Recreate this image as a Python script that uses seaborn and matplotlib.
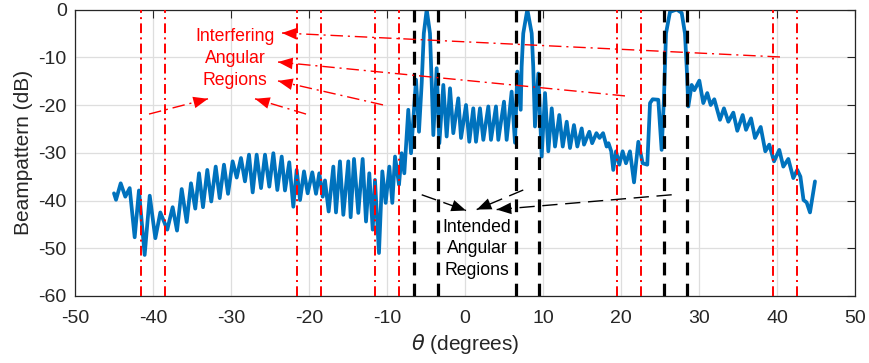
import numpy as np
import pandas as pd
import matplotlib
matplotlib.use("Agg")
import matplotlib.pyplot as plt
import seaborn as sns

# ---------------- data ----------------
theta = [
    -45.0, -44.74, -44.14, -43.55, -42.99, -42.35, -41.8, -41.07, -40.42, -39.7,
    -39.06, -38.17, -37.48, -36.92, -36.32, -35.68, -35.13, -34.58, -34.1, -33.59,
    -33.04, -32.53, -31.96, -31.45, -30.9, -30.38, -29.79,
    -29.27, -28.72, -28.21, -27.69, -27.22, -26.71, -26.15, -25.64, -25.09, -24.57,
    -24.06, -23.5, -23.08, -22.53, -22.01, -21.58, -21.15, -20.64, -20.17, -19.58,
    -19.1, -18.68, -18.24, -17.95, -17.48, -16.88, -16.54, -16.03, -15.6, -14.96, -14.66,
    -14.23, -13.68, -13.12, -12.69, -12.27, -11.83, -11.54, -11.03, -10.6, -10.17,
    -9.7, -9.32, -8.97, -8.46, -8.12, -7.78, -7.27, -6.92, -6.28, -5.9,
    -5.55, -5.28, -4.91, -4.49, -4.27, -4.06,
    -3.63, -3.29, -2.78, -2.35, -1.92, -1.5, -0.86, -0.51, 0.13, 0.55,
    1.06, 1.41, 1.92, 2.35, 2.99, 3.33, 3.97, 4.27, 5.0, 5.34,
    5.98, 6.41, 6.71, 7.14, 7.26, 7.47, 7.99, 8.55, 8.75, 8.97,
    9.4, 9.83, 10.26, 10.68, 11.12, 11.54, 12.09, 12.53, 13.04, 13.46,
    13.97, 14.4, 14.96, 15.26, 15.94, 16.3, 16.85, 17.25, 17.7, 18.16,
    18.4, 18.75, 19.01, 19.36, 19.78, 20.21, 20.64, 21.15, 21.67, 22.22,
    22.78, 23.37, 23.72, 24.06, 24.78, 25.21, 25.5, 25.77, 26.28, 27.14,
    27.78, 28.2, 28.42, 28.63, 29.06, 29.4, 30.04, 30.55, 31.06, 31.5,
    31.96, 32.69, 33.2, 33.76, 34.4, 34.91, 35.6, 36.03, 36.67, 37.18,
    37.91, 38.5, 39.01, 39.62, 40.29, 40.81, 41.45, 42.09, 42.6, 43.0,
    43.4, 43.8, 44.23, 44.87,
]
beampattern_db = [
    -38.5, -39.85, -36.4, -39.2, -37.4, -47.7, -37.9, -51.4, -39.0, -47.9,
    -42.5, -46.1, -41.4, -46.3, -37.6, -44.5, -36.4, -41.7, -34.3, -41.4,
    -33.6, -40.2, -32.9, -39.5, -32.5, -38.6, -31.8,
    -35.2, -31.1, -36.0, -30.4, -38.3, -30.4, -37.4, -30.4, -37.1, -30.1,
    -37.8, -30.8, -37.9, -32.0, -41.3, -33.6, -39.9, -33.9, -38.5, -34.1,
    -38.6, -34.3, -39.2, -35.8, -42.3, -32.9, -42.5, -31.8, -43.0, -31.8, -43.5,
    -31.3, -42.6, -31.3, -44.4, -34.3, -46.1, -35.7, -51.0, -33.9, -40.5,
    -32.9, -40.5, -30.8, -36.7, -30.1, -34.3, -21.0, -30.1, -14.7, -25.6,
    -15.4, -5.0, 0.0, -5.0, -15.4, -26.3,
    -12.3, -28.0, -15.8, -26.6, -16.5, -25.9, -18.6, -26.9, -20.0, -27.7,
    -20.7, -27.7, -20.7, -27.3, -20.3, -27.3, -20.3, -27.3, -19.3, -27.3,
    -17.2, -27.9, -13.0, -21.0, -12.0, -5.0, 0.0, -5.0, -12.0, -24.5,
    -13.4, -30.8, -17.5, -29.7, -20.7, -28.7, -22.1, -28.7, -23.5, -29.0,
    -24.2, -28.7, -24.9, -28.3, -25.6, -28.0, -25.9, -26.9, -25.9, -28.7,
    -28.0, -29.7, -33.6, -29.7, -32.5, -29.7, -32.2, -29.7, -36.2, -27.7,
    -32.2, -32.5, -19.6, -18.8, -18.9, -29.4, -18.9, -5.0, -0.5, 0.0,
    -0.7, -5.0, -12.0, -20.3, -15.8, -16.9, -14.9, -19.6, -17.5, -20.0,
    -18.8, -23.1, -20.7, -23.5, -21.6, -25.4, -22.1, -25.2, -22.8, -26.9,
    -24.6, -29.7, -28.3, -31.8, -29.4, -32.9, -31.3, -35.3, -33.6, -35.0,
    -39.9, -40.4, -42.5, -36.0,
]

interfering_bounds = [-41.5, -38.5, -21.5, -18.5, -11.5, -8.5, 19.5, 22.5, 39.5, 42.5]
intended_bounds = [-6.5, -3.5, 6.5, 9.5, 25.5, 28.5]

x_ticks = [-50, -40, -30, -20, -10, 0, 10, 20, 30, 40, 50]
y_ticks = [-60, -50, -40, -30, -20, -10, 0]

interfering_label = "Interfering\nAngular\nRegions"
interfering_label_pos = (-29.5, -10.2)
intended_label = "Intended\nAngular\nRegions"
intended_label_pos = (1.55, -50.1)

red_arrow_tails = [(40.38, -9.94), (20.51, -18.1), (-10.51, -19.98), (-40.51, -21.9), (-20.38, -21.9)]
red_arrow_heads = [(-23.46, -4.92), (-23.97, -11.0), (-23.97, -14.96), (-32.95, -18.7), (-26.92, -18.7)]
black_arrow_tails = [(-5.55, -38.8), (7.47, -37.8), (26.5, -38.8)]
black_arrow_heads = [(0.13, -42.1), (1.5, -41.9), (4.06, -41.9)]

# ---------------- styling ----------------
sns.set_theme(style="white")
plt.rcParams["font.family"] = ["Liberation Sans", "DejaVu Sans"]
plt.rcParams["axes.unicode_minus"] = False
plt.rcParams["mathtext.fontset"] = "dejavusans"

BLUE = "#0072BD"
DARK = "#262626"

fig = plt.figure(figsize=(8.69, 3.63), dpi=100)
ax = fig.add_axes([75 / 869, 1 - 296 / 363, (855 - 75) / 869, (296 - 9.5) / 363])

df = pd.DataFrame({"theta": theta, "bp": beampattern_db})
sns.lineplot(data=df, x="theta", y="bp", ax=ax, color=BLUE, lw=2.7,
             sort=False, estimator=None, zorder=2)
for ln in ax.lines:
    ln.set_solid_joinstyle("round")
    ln.set_solid_capstyle("round")

for b in interfering_bounds:
    ax.axvline(b, color="#FF0000", lw=1.4, ls=(0, (5, 2.2, 1, 2.2)), zorder=3)
for b in intended_bounds:
    ax.axvline(b, color="black", lw=2.3, ls=(0, (4, 2.6)), zorder=3)


def draw_arrow(tail, head, color, ls):
    ax.plot([tail[0], head[0]], [tail[1], head[1]], color=color, lw=1.0, ls=ls, zorder=5)
    ax.annotate("", xy=head, xytext=tail,
                arrowprops=dict(arrowstyle="-|>,head_length=0.75,head_width=0.3",
                                color=color, lw=0, shrinkA=0, shrinkB=0,
                                mutation_scale=14),
                zorder=6)


for t, h in zip(red_arrow_tails, red_arrow_heads):
    draw_arrow(t, h, "#FF0000", (0, (9, 3.5, 1.5, 3.5)))
for t, h in zip(black_arrow_tails, black_arrow_heads):
    draw_arrow(t, h, "black", (0, (11, 5.5)))

ax.text(*interfering_label_pos, interfering_label, color="#FF0000", fontsize=12.7,
        ha="center", va="center", linespacing=1.38, zorder=7)
ax.text(*intended_label_pos, intended_label, color="black", fontsize=12.7,
        ha="center", va="center", linespacing=1.33, zorder=7)

ax.set_xlim(-50, 50)
ax.set_ylim(-60, 0)
ax.set_xticks(x_ticks)
ax.set_yticks(y_ticks)
ax.set_xticklabels([str(v) for v in x_ticks])
ax.set_yticklabels([str(v) for v in y_ticks])
ax.grid(True, color="#dedede", lw=0.9, zorder=0)
ax.set_axisbelow(True)
ax.tick_params(axis="both", direction="in", length=5.5, width=0.8, colors=DARK,
               labelsize=14, top=True, right=True)
ax.tick_params(axis="x", pad=10)
ax.tick_params(axis="y", pad=6)
for s in ax.spines.values():
    s.set_color(DARK)
    s.set_linewidth(0.9)
    s.set_visible(True)

ax.set_xlabel(r"$\theta$ (degrees)", fontsize=15, color=DARK, labelpad=4)
ax.set_ylabel("Beampattern (dB)", fontsize=15, color=DARK, labelpad=4)

fig.savefig("out.png", dpi=100)
